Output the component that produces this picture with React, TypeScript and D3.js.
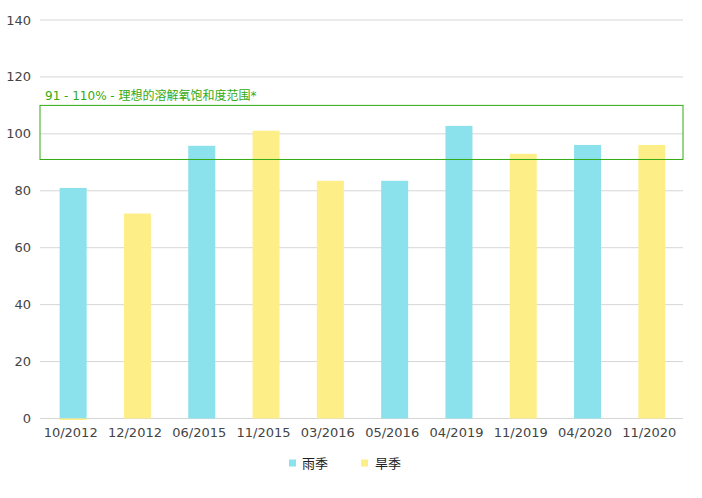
import React from "react";
import * as d3 from "d3";

const categories = ["10/2012", "12/2012", "06/2015", "11/2015", "03/2016", "05/2016", "04/2019", "11/2019", "04/2020", "11/2020"];
const rainSeason: (number | null)[] = [81, null, 95.8, null, null, 83.5, 102.8, null, 96.1, null];
const drySeason: (number | null)[] = [0, 72, null, 101.1, 83.5, null, null, 93, null, 96.1];
const yTicks = [0, 20, 40, 60, 80, 100, 120, 140];
const rangeBand = [91, 110];
const rangeLabel = "91 - 110% - 理想的溶解氧饱和度范围*";
const seriesNames = ["雨季", "旱季"];

const W = 702, H = 498;
const left = 40, right = 683, top = 20, bottom = 418.5;
const BLUE = "#8be1ec";
const YELLOW = "#feee88";
const GREEN = "#33aa11";
const FONT = "'DejaVu Sans', 'Noto Sans CJK SC', sans-serif";

export default function App() {
  const x = d3.scaleBand<string>().domain(categories).range([left + 1, right + 1]).paddingInner(0.58).paddingOuter(0.29);
  const y = d3.scaleLinear().domain([0, 140]).range([bottom, top]);
  const bw = 27;
  const cx = (c: string) => (x(c) as number) + x.bandwidth() / 2;

  const bars = (vals: (number | null)[], color: string) =>
    vals.map((v, i) => {
      if (v === null) return null;
      const c = categories[i];
      const yy = y(v);
      const h = Math.max(1.5, bottom - yy);
      return <rect key={color + i} x={cx(c) - bw / 2} y={v === 0 ? bottom : yy} width={bw} height={h} fill={color} />;
    });

  return (
    <svg width={W} height={H} style={{ position: "absolute", left: 0, top: 0, background: "#fff" }} fontFamily={FONT}>
      {yTicks.map((t) => (
        <g key={t}>
          <line x1={left} x2={right} y1={y(t)} y2={y(t)} stroke="#d6d6d6" strokeWidth={1} />
          <text x={31} y={y(t)} dy="0.35em" textAnchor="end" fontSize={13} fill="#444">{t}</text>
        </g>
      ))}
      {bars(rainSeason, BLUE)}
      {bars(drySeason, YELLOW)}
      <rect x={left} y={y(rangeBand[1])} width={right - left} height={y(rangeBand[0]) - y(rangeBand[1])} fill="none" stroke={GREEN} strokeWidth={1} />
      <text x={45} y={100} fontSize={12} fill={GREEN}>{rangeLabel}</text>
      {categories.map((c) => (
        <text key={c} x={cx(c) - 2.5} y={437} textAnchor="middle" fontSize={13} fill="#444">{c}</text>
      ))}
      <g>
        <rect x={289} y={459.5} width={7} height={7} fill={BLUE} />
        <text x={302} y={463} dy="0.35em" fontSize={13} fill="#222">{seriesNames[0]}</text>
        <rect x={361} y={459.5} width={7} height={7} fill={YELLOW} />
        <text x={375} y={463} dy="0.35em" fontSize={13} fill="#222">{seriesNames[1]}</text>
      </g>
    </svg>
  );
}
